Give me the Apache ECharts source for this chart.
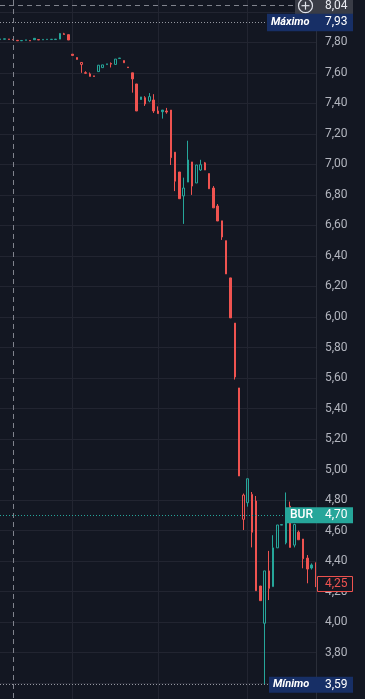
<!DOCTYPE html>
<html><head><meta charset="utf-8">
<script src="https://cdn.jsdelivr.net/npm/echarts@6/dist/echarts.min.js"></script>
<style>html,body{margin:0;padding:0;background:#131722;overflow:hidden}#c{width:365px;height:699px}</style>
</head><body><div id="c"></div>
<script>
// ---- data ----
const opens  = [7.818,7.820,7.822,7.819,7.813,7.810,7.813,7.812,7.826,7.818,7.816,7.818,7.818,7.818,7.821,7.856,7.850,
  7.722,7.700,7.655,7.601,7.576,7.580,7.608,7.634,7.654,7.661,7.655,7.694,7.680,7.638,7.600,7.527,7.442,7.437,7.415,7.422,7.350,7.356,7.350,
  7.356,7.080,6.950,6.793,6.884,7.016,6.878,6.963,7.010,6.940,6.845,6.727,6.630,6.500,6.256,5.960,5.535,
  4.674,4.783,4.589,4.794,4.237,3.993,4.336,4.233,4.487,4.636,4.520,4.760,4.505,4.590,4.545,4.420,4.375,4.390];
const highs  = [7.822,7.823,7.822,7.820,7.813,7.812,7.816,7.812,7.826,7.818,7.819,7.820,7.820,7.821,7.860,7.862,7.850,
  7.722,7.700,7.668,7.610,7.602,7.580,7.650,7.652,7.659,7.668,7.690,7.697,7.680,7.638,7.600,7.527,7.442,7.447,7.467,7.460,7.380,7.356,7.370,
  7.356,7.080,6.950,6.913,7.155,7.016,6.996,7.030,7.016,6.940,6.858,6.740,6.630,6.500,6.256,5.960,5.535,
  4.843,4.940,4.853,4.827,4.237,4.336,4.467,4.570,4.637,4.640,4.850,4.790,4.645,4.600,4.545,4.440,4.385,4.390];
const lows   = [7.818,7.819,7.818,7.816,7.810,7.809,7.813,7.809,7.817,7.815,7.816,7.818,7.818,7.818,7.821,7.851,7.815,
  7.714,7.688,7.600,7.592,7.576,7.575,7.608,7.634,7.654,7.635,7.655,7.694,7.666,7.634,7.470,7.350,7.425,7.383,7.407,7.337,7.333,7.300,7.332,
  6.996,6.825,6.775,6.610,6.884,6.800,6.878,6.957,6.963,6.840,6.715,6.629,6.505,6.282,5.994,5.590,4.958,
  4.604,4.757,4.490,4.206,4.141,3.590,4.145,4.233,4.487,4.636,4.510,4.490,4.490,4.540,4.353,4.255,4.345,4.230];
const closes = [7.822,7.823,7.818,7.816,7.810,7.812,7.816,7.809,7.817,7.815,7.819,7.820,7.820,7.821,7.858,7.851,7.815,
  7.714,7.688,7.668,7.597,7.593,7.576,7.650,7.652,7.659,7.657,7.690,7.697,7.666,7.634,7.560,7.350,7.425,7.396,7.444,7.350,7.333,7.345,7.343,
  7.044,6.890,6.775,6.845,7.029,6.858,6.996,6.998,6.963,6.840,6.715,6.629,6.524,6.282,5.994,5.607,4.958,
  4.833,4.940,4.838,4.206,4.141,4.336,4.222,4.487,4.637,4.640,4.700,4.490,4.640,4.540,4.416,4.348,4.355,4.250];
const categories = opens.map((_, i) => String(i + 1));
const yTicks = { min: 3.4, max: 8.2, step: 0.2 };
const highestPrice = 7.93, lowestPrice = 3.59;
const compareName = 'BUR', comparePrice = 4.70;
const lastPrice = 4.25;
const crossPrice = 8.04, crossIndex = 3;
const sessionBreaks = [17, 37, 58];

// ---- styles ----
const UP = '#26a69a', DOWN = '#ef5350', BG = '#131722', GRID = '#222531';
const FONT = 'Roboto, "Liberation Sans", sans-serif';
const fmt = v => v.toFixed(2).replace('.', ',');

const candleData = opens.map((o, i) => {
  const c = closes[i];
  const col = (i === 0 || c >= closes[i - 1]) ? UP : DOWN;
  const fill = c > o ? 'transparent' : col;
  return { value: [o, c, lows[i], highs[i]],
    itemStyle: { color: fill, color0: fill, borderColor: col, borderColor0: col, borderColorDoji: col } };
});

const chart = echarts.init(document.getElementById('c'), null, { renderer: 'canvas' });
const band = 4.264;
chart.setOption({
  backgroundColor: BG,
  animation: false,
  grid: { left: -1.89, width: band * opens.length, top: -18.74, height: 732.48, containLabel: false, outerBoundsMode: 'none' },
  xAxis: { type: 'category', data: categories, boundaryGap: true,
    axisLine: { show: false }, axisTick: { show: false }, axisLabel: { show: false }, splitLine: { show: false } },
  yAxis: [
    { type: 'value', position: 'right', min: yTicks.min, max: yTicks.max, interval: yTicks.step, z: 0,
      axisLine: { show: false }, axisTick: { show: false }, axisLabel: { show: false },
      splitLine: { show: true, lineStyle: { color: GRID, width: 1 } } },
    { type: 'value', position: 'right', offset: -1.9, min: yTicks.min, max: yTicks.max, interval: yTicks.step, z: 6,
      axisLine: { show: true, lineStyle: { color: '#2a2e39', width: 1 } }, axisTick: { show: false },
      axisLabel: { show: true, color: '#b2b5be', fontSize: 12, fontFamily: FONT, margin: 9, formatter: fmt },
      splitLine: { show: false } }
  ],
  series: [{ type: 'candlestick', data: candleData, barWidth: 2, z: 2, itemStyle: { borderWidth: 1 } }]
});

const py = v => chart.convertToPixel({ yAxisIndex: 0 }, v);
const px = i => chart.convertToPixel({ xAxisIndex: 0 }, categories[i]);
const crisp = v => Math.floor(v) + 0.5;
const els = [];
const txt = (t, x, y, fill, font, z) => ({ type: 'text', z: z, silent: true,
  style: { text: t, x: x, y: y, fill: fill, font: font, textVerticalAlign: 'middle', verticalAlign: 'middle', textAlign: 'left', align: 'left' } });

sessionBreaks.forEach(i => {
  const x = crisp(px(i));
  els.push({ type: 'line', z: 1, silent: true, shape: { x1: x, y1: 0, x2: x, y2: 699 }, style: { stroke: GRID, lineWidth: 1 } });
});
// cover right of price axis
els.push({ type: 'rect', z: 5, silent: true, shape: { x: 316.5, y: 0, width: 60, height: 699 }, style: { fill: BG } });

// crosshair
const cx = crisp(px(crossIndex)), cy = py(crossPrice);
els.push({ type: 'line', z: 90, silent: true, shape: { x1: cx, y1: 0, x2: cx, y2: 699 }, style: { stroke: '#80838d', lineWidth: 1, lineDash: [5, 4] } });
els.push({ type: 'line', z: 90, silent: true, shape: { x1: 0, y1: crisp(cy), x2: 295, y2: crisp(cy) }, style: { stroke: '#80838d', lineWidth: 1, lineDash: [5, 4] } });
els.push({ type: 'rect', z: 100, silent: true, shape: { x: 295, y: cy - 9, width: 58, height: 18 }, style: { fill: '#393c46' } });
els.push({ type: 'circle', z: 101, silent: true, shape: { cx: 305.5, cy: cy, r: 7 }, style: { fill: 'none', stroke: '#e0e3eb', lineWidth: 1.2 } });
els.push({ type: 'line', z: 101, silent: true, shape: { x1: 301.5, y1: cy, x2: 309.5, y2: cy }, style: { stroke: '#e0e3eb', lineWidth: 1.2 } });
els.push({ type: 'line', z: 101, silent: true, shape: { x1: 305.5, y1: cy - 4, x2: 305.5, y2: cy + 4 }, style: { stroke: '#e0e3eb', lineWidth: 1.2 } });
els.push(txt(fmt(crossPrice), 325, cy, '#e8eaf0', '12px ' + FONT, 101));

// highest
const hy = py(highestPrice);
els.push({ type: 'line', z: 90, silent: true, shape: { x1: 0, y1: crisp(hy), x2: 267, y2: crisp(hy) }, style: { stroke: '#9598a1', lineWidth: 1, lineDash: [1, 2] } });
els.push({ type: 'rect', z: 102, silent: true, shape: { x: 267, y: hy - 8.7, width: 86, height: 17.4 }, style: { fill: '#172f66' } });
els.push(txt('Máximo', 271, hy, '#ffffff', 'italic bold 11px ' + FONT, 103));
els.push(txt(fmt(highestPrice), 325, hy, '#ffffff', '12px ' + FONT, 103));

// lowest
const ly = py(lowestPrice);
els.push({ type: 'line', z: 90, silent: true, shape: { x1: 0, y1: crisp(ly), x2: 269, y2: crisp(ly) }, style: { stroke: '#9598a1', lineWidth: 1, lineDash: [1, 2] } });
els.push({ type: 'rect', z: 102, silent: true, shape: { x: 269, y: ly - 8, width: 84, height: 16 }, style: { fill: '#172f66' } });
els.push(txt('Mínimo', 273, ly, '#ffffff', 'italic bold 11px ' + FONT, 103));
els.push(txt(fmt(lowestPrice), 325, ly, '#ffffff', '12px ' + FONT, 103));

// compare symbol
const by = py(comparePrice);
els.push({ type: 'line', z: 90, silent: true, shape: { x1: 0, y1: crisp(by), x2: 285, y2: crisp(by) }, style: { stroke: UP, lineWidth: 1, lineDash: [1, 2] } });
els.push({ type: 'rect', z: 102, silent: true, shape: { x: 285, y: by - 8, width: 68, height: 16 }, style: { fill: UP } });
els.push(txt(compareName, 290, by, '#ffffff', '500 12px ' + FONT, 103));
els.push(txt(fmt(comparePrice), 325, by, '#ffffff', '12px ' + FONT, 103));

// last price
const cy2 = py(lastPrice);
els.push({ type: 'rect', z: 102, silent: true, shape: { x: 317.5, y: cy2 - 7.5, width: 35, height: 15 }, style: { fill: BG, stroke: DOWN, lineWidth: 1 } });
els.push(txt(fmt(lastPrice), 325, cy2, DOWN, '12px ' + FONT, 103));

chart.setOption({ graphic: { elements: els } });
</script></body></html>
